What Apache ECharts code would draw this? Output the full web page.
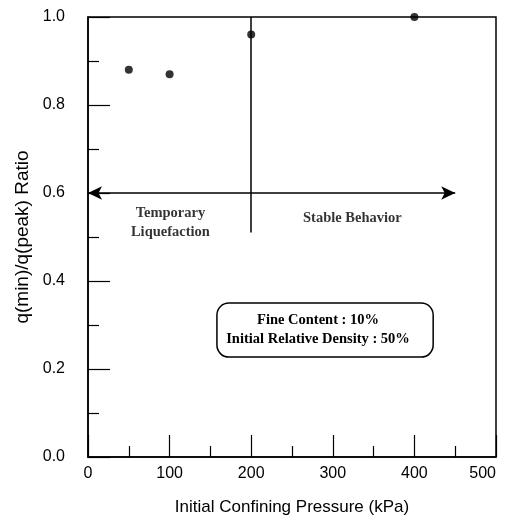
<!DOCTYPE html>
<html>
<head>
<meta charset="utf-8">
<script src="https://cdn.jsdelivr.net/npm/echarts@6/dist/echarts.min.js"></script>
<style>
html,body{margin:0;padding:0;background:#fff;}
#c{width:508px;height:515px;}
</style>
</head>
<body>
<div id="c"></div>
<script>
// Data
var pressures = [50, 100, 200, 400];
var ratios = [0.88, 0.87, 0.96, 1.0];
var xTicks = [0, 100, 200, 300, 400, 500];
var yTicks = [0.0, 0.2, 0.4, 0.6, 0.8, 1.0];
var arrowLine = [[0, 0.6], [450, 0.6]];
var dividerLine = [[200, 1.0], [200, 0.51]];
var regionLabels = ['Temporary\nLiquefaction', 'Stable Behavior'];
var regionLabelPos = [[101, 0.533], [324, 0.543]];
var infoLines = ['Fine Content : 10%', 'Initial Relative Density : 50%'];
var infoBox = [[158, 0.35], [423, 0.227]];

var chart = echarts.init(document.getElementById('c'), null, {renderer: 'canvas'});
var narrow = "'Liberation Sans Narrow', 'Arial Narrow', 'Liberation Sans', sans-serif";
var serifBold = "'Liberation Serif', 'Times New Roman', serif";

var option = {
  animation: false,
  backgroundColor: '#fff',
  grid: {left: 88, right: 12, top: 17, bottom: 58, containLabel: false, outerBoundsMode: 'none',
    show: true, borderColor: '#000', borderWidth: 1.5, backgroundColor: 'transparent'},
  xAxis: {
    type: 'value', min: xTicks[0], max: xTicks[xTicks.length - 1], interval: 100,
    name: 'Initial Confining Pressure (kPa)', nameLocation: 'middle', nameGap: 42,
    nameTextStyle: {fontFamily: "'Liberation Sans', Arial, sans-serif", fontSize: 17, color: '#000'},
    axisLine: {show: true, lineStyle: {color: '#000', width: 1.5}},
    axisTick: {show: true, inside: true, length: 22, lineStyle: {color: '#000', width: 1.2}},
    minorTick: {show: true, splitNumber: 2, length: 11, lineStyle: {color: '#000', width: 1.2}},
    splitLine: {show: false},
    axisLabel: {fontFamily: narrow, fontSize: 16, color: '#000', margin: 9, alignMaxLabel: 'right'}
  },
  yAxis: {
    type: 'value', min: yTicks[0], max: yTicks[yTicks.length - 1], interval: 0.2,
    name: 'q(min)/q(peak) Ratio', nameLocation: 'middle', nameGap: 49,
    nameTextStyle: {fontFamily: "'Liberation Sans', Arial, sans-serif", fontSize: 19, color: '#000'},
    axisLine: {show: true, lineStyle: {color: '#000', width: 1.5}},
    axisTick: {show: true, inside: true, length: 22, lineStyle: {color: '#000', width: 1.2}},
    minorTick: {show: true, splitNumber: 2, length: 11, lineStyle: {color: '#000', width: 1.2}},
    splitLine: {show: false},
    axisLabel: {fontFamily: narrow, fontSize: 16, color: '#000', margin: 23,
      formatter: function (v) { return v.toFixed(1); }}
  },
  series: [
    {
      type: 'scatter', symbol: 'circle', symbolSize: 8,
      itemStyle: {color: '#000'},
      data: pressures.map(function (p, i) { return [p, ratios[i]]; }),
      z: 5,
      markLine: {
        silent: true, symbol: ['arrow', 'arrow'], symbolSize: [10, 14],
        label: {show: false},
        lineStyle: {color: '#000', width: 1.5, type: 'solid'},
        data: [[{coord: arrowLine[0]}, {coord: arrowLine[1]}]]
      }
    },
    {
      type: 'scatter', symbolSize: 0, data: [],
      markLine: {
        silent: true, symbol: ['none', 'none'],
        label: {show: false},
        lineStyle: {color: '#000', width: 1.5, type: 'solid'},
        data: [[{coord: dividerLine[0]}, {coord: dividerLine[1]}]]
      }
    },
    {
      type: 'scatter', symbolSize: 0, silent: true,
      data: regionLabelPos.map(function (p, i) { return {value: p, name: regionLabels[i]}; }),
      label: {show: true, position: 'inside', formatter: function (p) { return p.name; },
        fontFamily: serifBold, fontWeight: 'bold', fontSize: 14.5, color: '#000', lineHeight: 19, align: 'center'}
    }
  ]
};
chart.setOption(option);

function drawBox() {
  var p1 = chart.convertToPixel({gridIndex: 0}, infoBox[0]);
  var p2 = chart.convertToPixel({gridIndex: 0}, infoBox[1]);
  var cx = (p1[0] + p2[0]) / 2 - 7;
  var cy = (p1[1] + p2[1]) / 2;
  chart.setOption({
    graphic: [
      {type: 'rect', shape: {x: p1[0], y: p1[1], width: p2[0] - p1[0], height: p2[1] - p1[1], r: 12},
       style: {fill: '#fff', stroke: '#000', lineWidth: 1.5}, z: 10},
      {type: 'text', x: cx, y: cy, z: 11,
       style: {text: infoLines.join('\n'), font: "bold 14.5px " + serifBold, fill: '#000',
         align: 'center', verticalAlign: 'middle', lineHeight: 19}}
    ]
  });
}
drawBox();
</script>
</body>
</html>
